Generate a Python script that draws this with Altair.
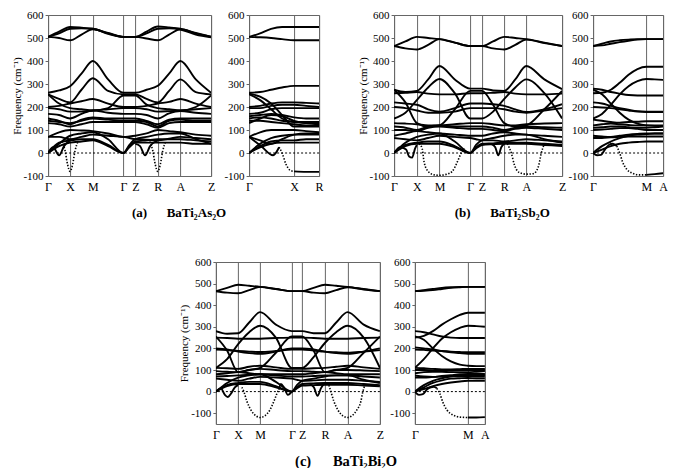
import altair as alt
import pandas as pd

FONT = "Liberation Serif"

# ---------------- k-paths (high-symmetry positions) ----------------
LAB_MAIN = ["Γ", "X", "M", "Γ", "Z", "R", "A", "Z"]
HS_A = [0, 22, 44.7, 75.3, 87.3, 109.7, 132.3, 163]
HS_B = [0, 22.7, 45.3, 76, 87.7, 110, 132, 167.7]
HS_C = [0, 22.3, 44.3, 76, 86.3, 109, 131.7, 164]
HS_AS, LAB_AS = [0, 45, 70], ["Γ", "X", "R"]
HS_BS, LAB_BS = [0, 54, 71], ["Γ", "M", "A"]
HS_CS, LAB_CS = [0, 53, 70], ["Γ", "M", "A"]

# ---------------- (a) BaTi2As2O main path ----------------
K_A = [0, 11, 22, 33.4, 44.7, 60, 75.3, 81.3, 87.3, 98.5, 109.7, 121, 132.3, 147.7, 163]
A_BANDS = [
    [505, 528, 548, 545, 540, 522, 505, 505, 505, 528, 550, 546, 540, 522, 505],
    [505, 500, 490, 515, 538, 520, 505, 505, 505, 498, 490, 515, 538, 520, 505],
    [505, 520, 540, 542, 540, 518, 505, 505, 505, 520, 540, 542, 537, 515, 503],
    [262, 272, 290, 345, 400, 320, 262, 262, 262, 275, 292, 345, 400, 320, 262],
    [255, 235, 220, 275, 325, 270, 255, 255, 255, 235, 220, 270, 320, 265, 255],
    [200, 205, 215, 225, 235, 215, 200, 200, 200, 205, 215, 222, 235, 215, 200],
    [255, 215, 195, 190, 185, 195, 250, 250, 250, 210, 195, 190, 185, 200, 250],
    [195, 190, 180, 180, 185, 190, 195, 195, 195, 190, 180, 182, 185, 190, 195],
    [170, 165, 150, 170, 185, 175, 170, 170, 170, 165, 150, 172, 182, 175, 170],
    [150, 140, 125, 145, 155, 150, 150, 150, 150, 140, 125, 145, 150, 150, 150],
    [140, 135, 130, 140, 150, 145, 140, 140, 140, 135, 115, 140, 145, 140, 140],
    [130, 125, 115, 125, 135, 135, 135, 135, 135, 125, 110, 130, 135, 135, 135],
    [70, 90, 100, 98, 95, 85, 70, 72, 75, 85, 100, 95, 90, 80, 75],
    [70, 70, 60, 70, 80, 75, 70, 65, 60, 58, 55, 62, 70, 65, 60],
    [0, 45, 55, 60, 60, 35, 0, 30, 50, 55, 60, 60, 60, 55, 50],
    [0, 30, 45, 50, 55, 30, 0, 25, 45, 45, 45, 45, 45, 40, 40],
    [0, 40, 75, 85, 90, 60, 0, 35, 60, 70, 80, 85, 85, 60, 40],
]
A_EXTRA = [
    ("dot", [14, 17, 19.5, 22, 24.5, 27, 30], [50, 10, -50, -80, -50, 10, 50]),
    ("dot", [101.7, 104.7, 107.2, 109.7, 112.2, 114.7, 117.7], [50, 10, -50, -80, -50, 10, 50]),
    ("solid", [0, 5, 11, 16, 22], [0, 25, -10, 30, 55]),
    ("solid", [87.3, 92, 97, 102, 109.7], [40, 30, -10, 30, 55]),
]

# ---------------- (a) small path Γ-X-R ----------------
K_AS = [0, 11, 22, 33, 45, 57, 70]
AS_BANDS = [
    [505, 520, 540, 548, 548, 548, 548],
    [505, 503, 500, 495, 490, 490, 490],
    [262, 265, 275, 285, 292, 292, 292],
    [258, 245, 215, 165, 115, 115, 115],
    [255, 230, 190, 150, 135, 135, 135],
    [200, 205, 215, 220, 220, 218, 215],
    [195, 195, 205, 210, 210, 205, 200],
    [170, 175, 190, 195, 195, 195, 195],
    [160, 165, 170, 165, 155, 150, 150],
    [150, 155, 150, 140, 135, 130, 130],
    [140, 140, 135, 130, 125, 120, 120],
    [130, 150, 165, 160, 140, 130, 125],
    [70, 90, 100, 100, 100, 95, 90],
    [70, 55, 40, 60, 80, 85, 85],
    [0, 40, 65, 75, 80, 80, 80],
    [0, 25, 40, 45, 45, 45, 45],
    [0, 30, 50, 55, 55, 60, 60],
]
AS_EXTRA = [
    ("solid", [0, 12, 24, 30], [70, 30, -10, 25]),
    ("dot", [30, 33, 37, 41, 45], [25, 0, -50, -75, -80]),
    ("solid", [45, 57, 70], [-80, -82, -82]),
]

# ---------------- (b) BaTi2Sb2O main path ----------------
K_B = [0, 11.3, 22.7, 34, 45.3, 60.6, 76, 81.8, 87.7, 98.8, 110, 121, 132, 150, 167.7]
B_BANDS = [
    [465, 485, 505, 500, 495, 480, 465, 465, 465, 485, 505, 500, 495, 480, 465],
    [465, 455, 450, 470, 495, 480, 465, 465, 465, 455, 450, 470, 493, 478, 465],
    [275, 265, 270, 320, 378, 320, 280, 280, 280, 272, 270, 320, 378, 320, 278],
    [150, 175, 230, 285, 322, 260, 150, 150, 150, 180, 235, 285, 320, 260, 150],
    [260, 262, 265, 258, 255, 255, 260, 260, 260, 262, 265, 258, 255, 255, 258],
    [275, 220, 130, 115, 120, 190, 270, 270, 270, 210, 130, 115, 120, 190, 270],
    [220, 215, 210, 190, 180, 195, 215, 215, 215, 212, 205, 190, 178, 190, 212],
    [200, 195, 185, 175, 175, 180, 195, 195, 195, 195, 190, 180, 175, 185, 195],
    [130, 128, 125, 120, 120, 125, 130, 130, 130, 125, 120, 120, 125, 128, 130],
    [115, 110, 100, 115, 120, 115, 115, 115, 115, 110, 100, 110, 115, 112, 110],
    [100, 100, 95, 110, 115, 110, 105, 105, 105, 100, 95, 105, 110, 105, 100],
    [75, 85, 95, 90, 85, 80, 75, 75, 75, 85, 90, 85, 80, 75, 70],
    [65, 60, 55, 65, 75, 70, 65, 60, 55, 55, 50, 55, 60, 55, 50],
    [0, 35, 45, 50, 50, 30, 0, 25, 40, 42, 45, 45, 45, 40, 35],
    [0, 30, 40, 40, 40, 25, 0, 20, 35, 38, 40, 40, 40, 35, 30],
    [0, 45, 70, 80, 85, 50, 0, 35, 55, 65, 75, 80, 80, 60, 45],
]
B_EXTRA = [
    ("solid", [0, 6, 12, 15, 18, 21, 22.7], [0, 25, 15, -15, -20, 20, 35]),
    ("dot", [25, 28, 30, 34, 40, 45.3, 52, 58, 63, 67, 70],
     [40, 20, -40, -80, -95, -97, -93, -80, -40, 0, 20]),
    ("solid", [97, 101, 104, 107, 110], [40, 25, -10, 25, 40]),
    ("dot", [113, 117, 120, 125, 132, 139, 144, 147, 150],
     [40, 0, -50, -85, -92, -90, -60, 0, 40]),
]

# ---------------- (b) small path Γ-M-A ----------------
K_BS = [0, 9, 18, 27, 36, 45, 54, 62.5, 71]
BS_BANDS = [
    [465, 475, 485, 490, 493, 495, 495, 495, 495],
    [465, 468, 475, 482, 488, 493, 495, 495, 495],
    [260, 262, 275, 305, 340, 365, 375, 375, 375],
    [150, 170, 210, 255, 290, 312, 322, 320, 318],
    [280, 275, 265, 258, 252, 250, 250, 250, 250],
    [275, 255, 215, 175, 145, 128, 120, 118, 118],
    [220, 215, 205, 195, 188, 182, 180, 180, 180],
    [200, 198, 195, 190, 185, 180, 178, 178, 178],
    [145, 140, 135, 132, 135, 136, 138, 138, 138],
    [120, 125, 128, 125, 122, 120, 120, 120, 120],
    [110, 112, 115, 115, 112, 110, 110, 112, 115],
    [100, 102, 105, 108, 108, 105, 100, 100, 100],
    [75, 72, 70, 75, 80, 83, 85, 85, 85],
    [65, 65, 68, 70, 72, 72, 72, 72, 72],
    [0, 30, 50, 65, 75, 80, 82, 85, 85],
    [0, 15, 30, 40, 45, 48, 50, 50, 50],
]
BS_EXTRA = [
    ("solid", [0, 4, 8, 12, 16, 20, 24], [0, -10, -8, 15, 35, 40, 30]),
    ("dot", [24, 27, 30, 34, 40, 47, 54], [30, 0, -40, -70, -88, -95, -95]),
    ("solid", [54, 62.5, 71], [-95, -92, -88]),
]

# ---------------- (c) BaTi2Bi2O main path ----------------
K_C = [0, 11.2, 22.3, 33.3, 44.3, 60, 76, 81, 86.3, 97.7, 109, 120.3, 131.7, 147.8, 164]
C_BANDS = [
    [465, 480, 495, 490, 485, 475, 465, 465, 465, 480, 495, 490, 485, 475, 465],
    [465, 458, 455, 470, 485, 475, 465, 465, 465, 458, 455, 470, 483, 473, 465],
    [280, 268, 270, 320, 368, 310, 280, 280, 280, 270, 270, 320, 368, 310, 280],
    [110, 150, 220, 275, 305, 250, 110, 110, 110, 160, 225, 275, 305, 250, 110],
    [250, 248, 245, 245, 245, 248, 250, 250, 250, 248, 245, 245, 245, 248, 250],
    [255, 190, 90, 100, 110, 180, 255, 255, 255, 190, 90, 100, 110, 180, 255],
    [200, 195, 185, 178, 175, 185, 200, 200, 200, 195, 185, 178, 175, 185, 200],
    [195, 192, 188, 185, 183, 188, 195, 195, 195, 190, 185, 182, 180, 185, 192],
    [110, 108, 105, 115, 120, 112, 105, 105, 105, 108, 110, 115, 120, 112, 105],
    [95, 92, 90, 100, 105, 100, 95, 95, 95, 92, 90, 100, 100, 98, 95],
    [80, 85, 90, 85, 80, 80, 80, 80, 80, 85, 90, 85, 80, 80, 80],
    [70, 72, 75, 78, 80, 75, 70, 70, 70, 72, 75, 75, 75, 70, 65],
    [60, 55, 50, 60, 68, 65, 60, 55, 50, 52, 55, 55, 55, 50, 45],
    [0, 30, 40, 45, 45, 25, 0, 20, 35, 38, 40, 40, 40, 35, 30],
    [0, 25, 35, 35, 35, 20, 0, 15, 28, 30, 32, 32, 32, 28, 25],
    [0, 40, 65, 75, 80, 45, 0, 30, 50, 60, 70, 75, 75, 55, 40],
]
C_EXTRA = [
    ("solid", [0, 5, 9, 12, 15, 19, 22.3], [0, 15, -15, -25, -10, 20, 30]),
    ("dot", [26, 28, 31, 35, 40, 44.3, 49, 54, 58, 61, 63],
     [20, 0, -45, -85, -112, -120, -112, -85, -45, -10, 10]),
    ("solid", [63, 65, 68, 72, 76], [10, 35, 20, -15, 0]),
    ("solid", [94, 98, 101.7, 105, 109], [35, 20, -20, 15, 40]),
    ("dot", [113, 115, 118, 122, 127, 131.7, 136, 141, 145, 147, 149],
     [30, 0, -45, -85, -112, -120, -112, -85, -45, 0, 30]),
]

# ---------------- (c) small path Γ-M-A ----------------
K_CS = [0, 9, 18, 27, 36, 45, 53, 61.5, 70]
CS_BANDS = [
    [465, 470, 475, 480, 483, 485, 485, 485, 485],
    [465, 467, 470, 475, 480, 483, 485, 485, 485],
    [250, 258, 280, 310, 335, 355, 365, 365, 365],
    [110, 150, 200, 245, 275, 295, 305, 303, 300],
    [280, 275, 265, 255, 250, 248, 248, 248, 248],
    [255, 240, 200, 165, 140, 125, 120, 118, 118],
    [205, 200, 195, 188, 182, 178, 175, 175, 175],
    [195, 193, 190, 188, 185, 183, 182, 182, 182],
    [110, 108, 105, 103, 103, 104, 105, 105, 105],
    [100, 100, 98, 97, 98, 100, 100, 100, 100],
    [85, 90, 92, 92, 90, 90, 90, 92, 95],
    [75, 70, 68, 72, 76, 80, 82, 82, 82],
    [65, 65, 68, 70, 72, 72, 72, 72, 72],
    [0, 30, 50, 62, 70, 75, 77, 78, 78],
    [0, 12, 25, 35, 42, 47, 50, 50, 50],
    [0, 20, 40, 52, 60, 62, 63, 62, 62],
]
CS_EXTRA = [
    ("solid", [0, 4, 8, 12, 16, 19, 22], [0, -15, -12, 10, 20, 22, 15]),
    ("dot", [22, 25, 28, 32, 38, 45, 53], [15, -10, -50, -85, -108, -118, -120]),
    ("solid", [53, 61.5, 70], [-120, -120, -118]),
]

Y_TICKS = [-100, 0, 100, 200, 300, 400, 500, 600]
Y_TITLE = "Frequency (cm⁻¹)"
CAPTIONS = ["(a)\u2002\u2002\u2002BaTi₂As₂O", "(b)\u2002\u2002\u2002BaTi₂Sb₂O", "(c)\u2002\u2002\u2002BaTi₂Bi₂O"]


def make_panel(K, bands, extras, hs, labs, w, h, ydom, main):
    solid_rows, dot_rows = [], []
    for i, b in enumerate(bands):
        for k, f in zip(K, b):
            solid_rows.append({"k": k, "f": f, "s": f"b{i}"})
    for j, (style, ks, vs) in enumerate(extras):
        target = dot_rows if style == "dot" else solid_rows
        for k, f in zip(ks, vs):
            target.append({"k": k, "f": f, "s": f"e{j}"})
    expr = "".join(f"abs(datum.value - {k}) < 0.01 ? '{l}' : " for k, l in zip(hs, labs)) + "''"
    xscale = alt.Scale(domain=[0, hs[-1]], nice=False, zero=False)
    yscale = alt.Scale(domain=ydom, nice=False, zero=False)
    xenc = alt.X(
        "k:Q", scale=xscale,
        axis=alt.Axis(values=hs, tickCount=30, labelExpr=expr, grid=True, gridColor="#666",
                      gridWidth=1, ticks=False, domain=False, labelFlush=False,
                      labelOverlap=False, labelPadding=5, labelFontSize=12, labelFont=FONT,
                      labelColor="black", title=None),
    )
    yaxis = dict(values=Y_TICKS, tickCount=30, labelExpr="'' + datum.value", grid=False,
                 domain=False, tickSize=3, tickColor="#666", labelPadding=2, labelFontSize=11,
                 labelFont=FONT, labelColor="black", labelOverlap=False, labelFlush=False,
                 minExtent=22, maxExtent=22)
    if main:
        yaxis.update(title=Y_TITLE, titlePadding=4, titleFontSize=11, titleFontWeight="normal",
                     titleFont=FONT, titleColor="black")
    else:
        yaxis.update(title=None)
    yenc = alt.Y("f:Q", scale=yscale, axis=alt.Axis(**yaxis))
    solid = alt.Chart(pd.DataFrame(solid_rows)).mark_line(
        interpolate="monotone", color="black", strokeWidth=1.9, clip=True
    ).encode(x=xenc, y=yenc, detail="s:N")
    dotted = alt.Chart(pd.DataFrame(dot_rows)).mark_line(
        interpolate="monotone", color="black", strokeWidth=1.6, strokeDash=[1.4, 1.6], clip=True
    ).encode(x=xenc, y=yenc, detail="s:N")
    zero = alt.Chart(pd.DataFrame({"z": [0]})).mark_rule(
        color="black", strokeWidth=1, strokeDash=[2, 2]
    ).encode(y=alt.datum(0))
    return alt.layer(solid, dotted, zero).properties(width=w, height=h)


def caption(text, dx, size=13):
    return alt.TitleParams(text, orient="bottom", anchor="middle", offset=14, dx=dx, font=FONT,
                           fontSize=size, fontWeight="bold", color="black")


a_main = make_panel(K_A, A_BANDS, A_EXTRA, HS_A, LAB_MAIN, 163, 161, [-100, 600], True)
a_small = make_panel(K_AS, AS_BANDS, AS_EXTRA, HS_AS, LAB_AS, 70, 161, [-100, 600], False)
b_main = make_panel(K_B, B_BANDS, B_EXTRA, HS_B, LAB_MAIN, 168, 161, [-100, 600], True)
b_small = make_panel(K_BS, BS_BANDS, BS_EXTRA, HS_BS, LAB_BS, 70, 161, [-100, 600], False)
c_main = make_panel(K_C, C_BANDS, C_EXTRA, HS_C, LAB_MAIN, 164, 162, [-150, 600], True)
c_small = make_panel(K_CS, CS_BANDS, CS_EXTRA, HS_CS, LAB_CS, 70, 162, [-150, 600], False)

group_a = alt.hconcat(a_main, a_small, spacing=7).properties(title=caption(CAPTIONS[0], 12))
group_b = alt.hconcat(b_main, b_small, spacing=0).properties(title=caption(CAPTIONS[1], -10))
group_c = alt.hconcat(c_main, c_small, spacing=4).properties(title=caption(CAPTIONS[2], 12, 14.5))
top = alt.hconcat(group_a, group_b, spacing=32)

spacer = alt.Chart(pd.DataFrame({"z": [0]})).mark_point(opacity=0).encode(
    x=alt.X("z:Q", axis=None), y=alt.Y("z:Q", axis=None)
).properties(width=1, height=1, view=alt.ViewBackground(strokeOpacity=0))
bottom = alt.hconcat(group_c, spacer, spacing=4)

chart = alt.vconcat(top, bottom, spacing=35, center=True).properties(
    padding={"left": 2, "top": 0, "right": 0, "bottom": 0},
    background="white",
).configure_view(stroke="#666", strokeWidth=1)

chart.save("out.html", embed_options={"renderer": "svg", "actions": False})
